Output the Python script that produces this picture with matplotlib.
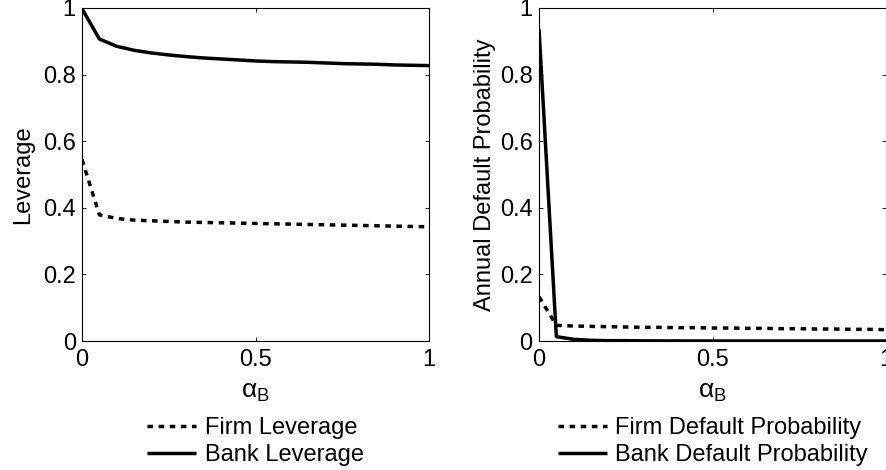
import matplotlib
matplotlib.use("Agg")
import matplotlib.pyplot as plt

plt.rcParams['font.family'] = ['Liberation Sans', 'DejaVu Sans']
plt.rcParams['mathtext.fontset'] = 'custom'
plt.rcParams['mathtext.rm'] = 'Liberation Sans'
plt.rcParams['mathtext.it'] = 'Liberation Sans:italic'

alpha_b = [0.00, 0.05, 0.10, 0.15, 0.20, 0.25, 0.30, 0.35, 0.40, 0.45, 0.50,
           0.55, 0.60, 0.65, 0.70, 0.75, 0.80, 0.85, 0.90, 0.95, 1.00]

firm_leverage = [0.545, 0.379, 0.368, 0.363, 0.361, 0.359, 0.357, 0.356, 0.355, 0.354, 0.353,
                 0.352, 0.351, 0.350, 0.349, 0.348, 0.347, 0.346, 0.345, 0.344, 0.343]
bank_leverage = [0.998, 0.907, 0.885, 0.873, 0.865, 0.859, 0.854, 0.850, 0.847, 0.844, 0.841,
                 0.839, 0.838, 0.837, 0.835, 0.833, 0.832, 0.831, 0.829, 0.828, 0.827]

firm_default = [0.133, 0.047, 0.045, 0.044, 0.043, 0.042, 0.041, 0.041, 0.040, 0.040, 0.039,
                0.039, 0.038, 0.038, 0.037, 0.037, 0.036, 0.036, 0.035, 0.035, 0.034]
bank_default = [0.937, 0.013, 0.005, 0.002, 0.001, 0.001, 0.0005, 0.0003, 0.0002, 0.0001, 0.0,
                0.0, 0.0, 0.0, 0.0, 0.0, 0.0, 0.0, 0.0, 0.0, 0.0]

x_ticks = [0, 0.5, 1]
x_tick_labels = ['0', '0.5', '1']
y_ticks = [0, 0.2, 0.4, 0.6, 0.8, 1]
y_tick_labels = ['0', '0.2', '0.4', '0.6', '0.8', '1']

FS = 17
LW = 2.5
DOT = (0, (1.6, 1.6))

fig = plt.figure(figsize=(8.86, 4.70), dpi=100)
ax1 = fig.add_axes([82 / 886, 1 - 341 / 470, 347 / 886, 333 / 470])
ax2 = fig.add_axes([539 / 886, 1 - 341 / 470, 347 / 886, 333 / 470])

panels = [
    (ax1, firm_leverage, bank_leverage, 'Leverage', 'Firm Leverage', 'Bank Leverage', -0.138),
    (ax2, firm_default, bank_default, 'Annual Default Probability',
     'Firm Default Probability', 'Bank Default Probability', -0.125),
]

for ax, firm, bank, ylab, flab, blab, ylx in panels:
    ax.plot(alpha_b, firm, color='black', lw=LW, linestyle=DOT, dash_capstyle='butt', label=flab)
    ax.plot(alpha_b, bank, color='black', lw=LW, linestyle='-', solid_capstyle='butt', label=blab)
    ax.set_xlim(0, 1)
    ax.set_ylim(0, 1)
    ax.set_xticks(x_ticks)
    ax.set_xticklabels(x_tick_labels)
    ax.set_yticks(y_ticks)
    ax.set_yticklabels(y_tick_labels)
    ax.tick_params(direction='in', length=3, width=0.6, labelsize=FS,
                   top=True, right=True, pad=4.5)
    ax.tick_params(axis='x', pad=5.5)
    for sp in ax.spines.values():
        sp.set_linewidth(0.8)
    ax.set_xlabel(r'$\mathregular{\alpha_B}$', fontsize=FS + 2, labelpad=7)
    ax.set_ylabel(ylab, fontsize=FS)
    ax.yaxis.set_label_coords(ylx, 0.5)
    ax.legend(loc='upper center', bbox_to_anchor=(0.5, -0.228), frameon=False,
              fontsize=FS, handlelength=2.08, handletextpad=0.35, labelspacing=0.22,
              borderpad=0, borderaxespad=0)

fig.savefig('out.png', dpi=100)
